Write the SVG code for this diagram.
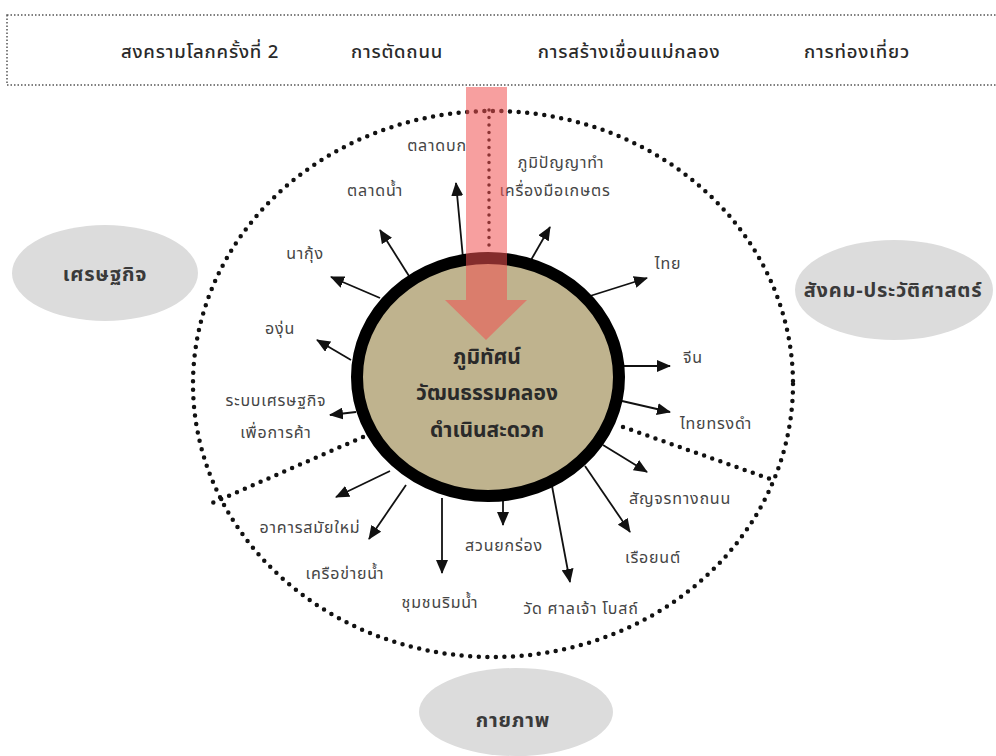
<svg xmlns="http://www.w3.org/2000/svg" width="996" height="756" viewBox="0 0 996 756">
<defs>
<marker id="ah" markerUnits="userSpaceOnUse" markerWidth="14" markerHeight="12" refX="13" refY="6" orient="auto">
<path d="M0,0 L14,6 L0,12 z" fill="#111"/>
</marker>
<style>
.lbl{font-family:"Noto Sans Thai","Noto Sans","Liberation Sans",sans-serif;font-size:16px;letter-spacing:0.8px;fill:#454545;text-anchor:middle}
.top{font-family:"Noto Sans Thai","Noto Sans","Liberation Sans",sans-serif;font-size:18.5px;letter-spacing:0.8px;font-weight:500;fill:#2a2a2a;text-anchor:middle}
.cat{font-family:"Noto Sans Thai","Noto Sans","Liberation Sans",sans-serif;font-size:20px;letter-spacing:0.8px;font-weight:bold;fill:#3a3a3a;text-anchor:middle}
.ctr{font-family:"Noto Sans Thai","Noto Sans","Liberation Sans",sans-serif;font-size:21px;font-weight:bold;fill:#2a2a2a;text-anchor:middle}
.dots{fill:none;stroke:#111;stroke-width:4.5;stroke-linecap:round;stroke-dasharray:0 8.6}
.arr{stroke:#111;stroke-width:1.8;fill:none;marker-end:url(#ah)}
.cell{fill:#dcdcdc}
</style>
</defs>
<rect width="996" height="756" fill="#ffffff"/>

<g id="banner">
<rect x="7" y="15" width="1000" height="70" fill="none" stroke="#555" stroke-width="1.5" stroke-dasharray="1.5 2"/>
<text class="top" x="200" y="58">สงครามโลกครั้งที่ 2</text>
<text class="top" x="397" y="58">การตัดถนน</text>
<text class="top" x="629" y="58">การสร้างเขื่อนแม่กลอง</text>
<text class="top" x="857" y="58">การท่องเที่ยว</text>
</g>

<g id="outer-ring">
<ellipse class="dots" cx="493" cy="384" rx="300" ry="273"/>
<path class="dots" d="M363,437 L210,504"/>
<path class="dots" d="M623,427 L776,481"/>
</g>

<g id="cat-economy">
<ellipse class="cell" cx="105" cy="273" rx="93" ry="48"/>
<text class="cat" x="105" y="281">เศรษฐกิจ</text>
</g>
<g id="cat-society">
<ellipse class="cell" cx="894" cy="290" rx="99" ry="50"/>
<text class="cat" x="893" y="297">สังคม-ประวัติศาสตร์</text>
</g>
<g id="cat-physical">
<ellipse class="cell" cx="516" cy="712" rx="97" ry="44"/>
<text class="cat" x="513" y="727">กายภาพ</text>
</g>

<g id="connectors">
<line class="arr" x1="463" y1="258" x2="456" y2="183"/>
<line class="arr" x1="409" y1="276" x2="380" y2="230"/>
<line class="arr" x1="380" y1="298" x2="331" y2="277"/>
<line class="arr" x1="351" y1="360" x2="317" y2="340"/>
<line class="arr" x1="356" y1="412" x2="330" y2="415"/>
<line class="arr" x1="390" y1="471" x2="336" y2="497"/>
<line class="arr" x1="406" y1="485" x2="369" y2="539"/>
<line class="arr" x1="442" y1="498" x2="442" y2="573"/>
<line class="arr" x1="503" y1="498" x2="503" y2="525"/>
<line class="arr" x1="552" y1="486" x2="570" y2="582"/>
<line class="arr" x1="585" y1="466" x2="630" y2="532"/>
<line class="arr" x1="603" y1="445" x2="647" y2="472"/>
<line class="arr" x1="622" y1="401" x2="670" y2="412"/>
<line class="arr" x1="622" y1="366" x2="670" y2="366"/>
<line class="arr" x1="590" y1="296" x2="647" y2="278"/>
<line class="arr" x1="531" y1="260" x2="550" y2="227"/>
</g>

<g id="labels">
<text class="lbl" x="437" y="151">ตลาดบก</text>
<text class="lbl" x="375" y="196">ตลาดน้ำ</text>
<text class="lbl" x="305" y="259">นากุ้ง</text>
<text class="lbl" x="280" y="334">องุ่น</text>
<text class="lbl" x="276" y="406">ระบบเศรษฐกิจ</text>
<text class="lbl" x="276" y="438">เพื่อการค้า</text>
<text class="lbl" x="310" y="533">อาคารสมัยใหม่</text>
<text class="lbl" x="345" y="579">เครือข่ายน้ำ</text>
<text class="lbl" x="440" y="608">ชุมชนริมน้ำ</text>
<text class="lbl" x="504" y="551">สวนยกร่อง</text>
<text class="lbl" x="581" y="614">วัด ศาลเจ้า โบสถ์</text>
<text class="lbl" x="653" y="563">เรือยนต์</text>
<text class="lbl" x="680" y="504">สัญจรทางถนน</text>
<text class="lbl" x="716" y="429">ไทยทรงดำ</text>
<text class="lbl" x="693" y="363">จีน</text>
<text class="lbl" x="668" y="269">ไทย</text>
<text class="lbl" x="561" y="168">ภูมิปัญญาทำ</text>
<text class="lbl" x="555" y="196">เครื่องมือเกษตร</text>
</g>

<g id="center">
<ellipse cx="488" cy="377" rx="131" ry="119" fill="#bfb38e" stroke="#000" stroke-width="12"/>
</g>

<g id="influence">
<path d="M489,110 L489,250" fill="none" stroke="#111" stroke-width="3.5" stroke-linecap="round" stroke-dasharray="0 7.5"/>
<path d="M466,87 L507,87 L507,300 L527,300 L486,340 L445,300 L466,300 z" fill="#f05050" fill-opacity="0.55"/>
</g>

<g id="center-text">
<text class="ctr" x="487" y="364">ภูมิทัศน์</text>
<text class="ctr" x="487" y="400">วัฒนธรรมคลอง</text>
<text class="ctr" x="487" y="437">ดำเนินสะดวก</text>
</g>
</svg>
